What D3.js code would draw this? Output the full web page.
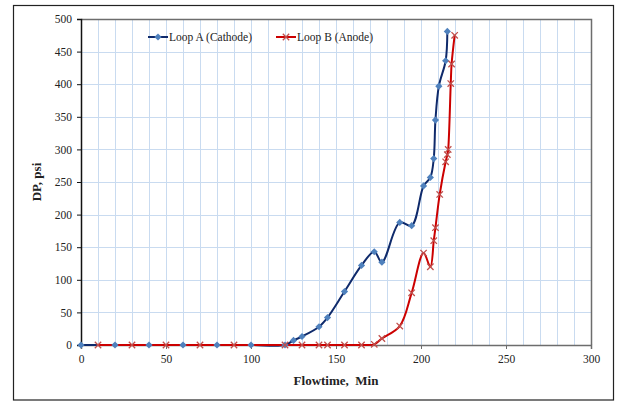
<!DOCTYPE html>
<html>
<head>
<meta charset="utf-8">
<script src="https://cdn.jsdelivr.net/npm/d3@7"></script>
<style>
  body { margin: 0; background: #fff; }
  svg text { font-family: "Liberation Serif", "Times New Roman", serif; fill: #222; }
</style>
</head>
<body>
<svg id="chart" width="619" height="403"></svg>
<script>
// flow time (min) and pressure drop (psi) for each loop
var cathodeTime = [0, 20, 40, 60, 80, 100, 120, 125, 130, 140, 145, 155, 165, 172.5, 177,
    187.5, 194.5, 201.5, 205.5, 207.5, 208.5, 210.5, 214.5, 215.5];
var cathodeDP = [0, 0, 0, 0, 0, 0, 0, 7, 13, 28, 42, 82, 122, 143, 127,
    188, 183, 244, 257, 286, 345, 397, 436, 481];

var anodeTime = [10, 30, 50, 70, 90, 120, 130, 140, 145, 155, 165, 172.5, 177, 187.5,
    194.5, 201.5, 205.5, 207.5, 208.5, 211, 214.5, 215.5, 216, 217.5, 218, 219.8];
var anodeDP = [0, 0, 0, 0, 0, 0, 0, 0, 0, 0, 0, 1, 10, 29,
    80, 141, 120, 160, 180, 231, 281, 292, 300, 401, 431, 475];

var xTicks = [0, 50, 100, 150, 200, 250, 300];
var yTicks = [0, 50, 100, 150, 200, 250, 300, 350, 400, 450, 500];

var seriesNames = ['Loop A (Cathode)', 'Loop B (Anode)'];

var svg = d3.select('#chart'),
    margin = {left: 81, top: 19, right: 28, bottom: 58},
    width = 619 - margin.left - margin.right,
    height = 403 - margin.top - margin.bottom;

// outer frame
svg.append('rect')
    .attr('x', 13.5).attr('y', 5.5)
    .attr('width', 600).attr('height', 394.5)
    .attr('fill', 'none').attr('stroke', '#222').attr('stroke-width', 1.2);

var g = svg.append('g').attr('transform', 'translate(' + margin.left + ',' + margin.top + ')');

var x = d3.scaleLinear().domain([0, 300]).range([0, width]),
    y = d3.scaleLinear().domain([0, 500]).range([height, 0]);

// grid
g.append('g').selectAll('line').data(d3.range(10, 300, 10)).join('line')
    .attr('x1', function (d) { return Math.round(x(d)) + 0.5; })
    .attr('x2', function (d) { return Math.round(x(d)) + 0.5; })
    .attr('y1', 0).attr('y2', height)
    .attr('stroke', '#c9dbf0').attr('stroke-width', 1);
g.append('g').selectAll('line').data(d3.range(50, 500, 50)).join('line')
    .attr('y1', function (d) { return Math.round(y(d)) + 0.5; })
    .attr('y2', function (d) { return Math.round(y(d)) + 0.5; })
    .attr('x1', 0).attr('x2', width)
    .attr('stroke', '#c9dbf0').attr('stroke-width', 1);

// plot area frame (top/right)
g.append('path')
    .attr('d', 'M0.5,0.5H' + (width + 0.5) + 'V' + height)
    .attr('fill', 'none').attr('stroke', '#6d6d6d').attr('stroke-width', 1.5);

var xAxis = g.append('g')
    .attr('transform', 'translate(0,' + height + ')')
    .call(d3.axisBottom(x).tickValues(xTicks).tickSize(4).tickPadding(6));
var yAxis = g.append('g')
    .call(d3.axisLeft(y).tickValues(yTicks).tickSize(4).tickPadding(5));

xAxis.select('.domain').attr('stroke', '#6d6d6d').attr('stroke-width', 1.5);
yAxis.select('.domain').attr('stroke', '#111').attr('stroke-width', 1.5);
xAxis.selectAll('.tick line').attr('stroke', '#6d6d6d');
yAxis.selectAll('.tick line').attr('stroke', '#111');
svg.selectAll('.tick text')
    .style('font-family', '"Liberation Serif", serif')
    .style('font-size', '11.5px').attr('fill', '#222');

// axis titles
svg.append('text')
    .attr('x', margin.left + width / 2).attr('y', 385)
    .attr('text-anchor', 'middle')
    .style('font-size', '13px').style('font-weight', 'bold')
    .attr('xml:space', 'preserve')
    .text('Flowtime,  Min');
svg.append('text')
    .attr('transform', 'translate(41,' + (margin.top + height / 2) + ') rotate(-90)')
    .attr('text-anchor', 'middle')
    .style('font-size', '13px').style('font-weight', 'bold')
    .text('DP, psi');

var line = d3.line()
    .x(function (d) { return x(d[0]); })
    .y(function (d) { return y(d[1]); })
    .curve(d3.curveCatmullRom.alpha(0.5));

var cathode = d3.zip(cathodeTime, cathodeDP),
    anode = d3.zip(anodeTime, anodeDP);

var blueLine = '#0f2a6b', blueMark = '#4f81bd',
    redLine = '#cc0000', redMark = '#c0504d';

function diamond(sel, c) {
    sel.append('path')
        .attr('d', 'M0,-3.6L3.6,0L0,3.6L-3.6,0Z')
        .attr('fill', c);
}
function cross(sel, c) {
    sel.append('path')
        .attr('d', 'M-3.2,-3.2L3.2,3.2M-3.2,3.2L3.2,-3.2')
        .attr('stroke', c).attr('stroke-width', 1.3).attr('fill', 'none');
}

g.append('path').datum(cathode)
    .attr('d', line).attr('fill', 'none')
    .attr('stroke', blueLine).attr('stroke-width', 2);
g.append('path').datum(anode)
    .attr('d', line).attr('fill', 'none')
    .attr('stroke', redLine).attr('stroke-width', 2);

g.append('g').selectAll('g').data(cathode).join('g')
    .attr('transform', function (d) { return 'translate(' + x(d[0]) + ',' + y(d[1]) + ')'; })
    .each(function () { diamond(d3.select(this), blueMark); });
g.append('g').selectAll('g').data(anode).join('g')
    .attr('transform', function (d) { return 'translate(' + x(d[0]) + ',' + y(d[1]) + ')'; })
    .each(function () { cross(d3.select(this), redMark); });

// legend
var legend = svg.append('g').attr('transform', 'translate(148,37)');
var items = [
    {name: seriesNames[0], x: 0, color: blueLine, mark: diamond, mc: blueMark},
    {name: seriesNames[1], x: 128, color: redLine, mark: cross, mc: redMark}
];
items.forEach(function (it) {
    var li = legend.append('g').attr('transform', 'translate(' + it.x + ',0)');
    li.append('line').attr('x1', 0).attr('x2', 20).attr('y1', 0).attr('y2', 0)
        .attr('stroke', it.color).attr('stroke-width', 2);
    it.mark(li.append('g').attr('transform', 'translate(10,0)'), it.mc);
    li.append('text').attr('x', 21).attr('y', 4)
        .style('font-size', '11.5px')
        .text(it.name);
});
</script>
</body>
</html>
